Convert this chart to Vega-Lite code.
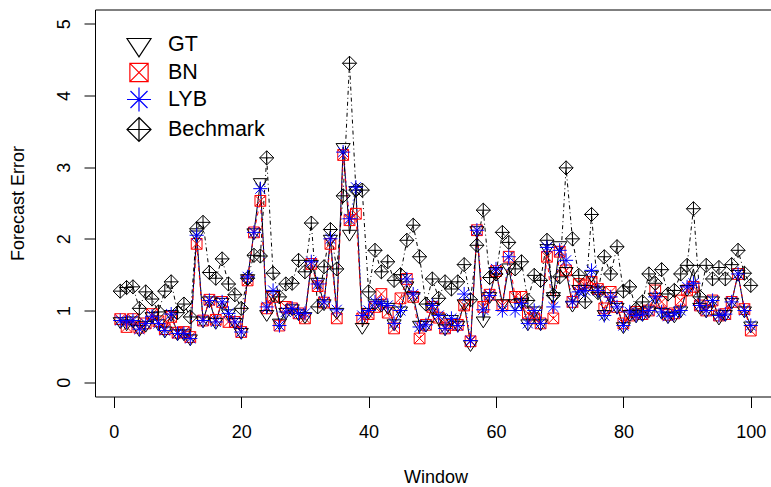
{
  "$schema": "https://vega.github.io/schema/vega-lite/v6.json",
  "width": 681,
  "height": 387,
  "autosize": {"type": "none"},
  "padding": {"left": 95, "top": 9.5, "right": 0, "bottom": 90.5},
  "background": "white",
  "config": {
    "font": "Liberation Sans",
    "view": {"stroke": "black", "strokeWidth": 1},
    "axis": {
      "grid": false, "domain": false, "tickColor": "black", "tickSize": 11, "tickWidth": 1,
      "labelColor": "black", "titleColor": "black", "labelFontSize": 18, "titleFontSize": 18,
      "titleFontWeight": "normal", "labelFont": "Liberation Sans", "titleFont": "Liberation Sans"
    }
  },
  "data": {
    "values": [
      {"w":1,"GT":0.85,"BN":0.88,"LYB":0.86,"Bechmark":1.27},
      {"w":2,"GT":0.82,"BN":0.77,"LYB":0.84,"Bechmark":1.32},
      {"w":3,"GT":0.86,"BN":0.88,"LYB":0.86,"Bechmark":1.33},
      {"w":4,"GT":0.74,"BN":0.76,"LYB":0.74,"Bechmark":1.03},
      {"w":5,"GT":0.80,"BN":0.82,"LYB":0.82,"Bechmark":1.26},
      {"w":6,"GT":0.92,"BN":0.95,"LYB":0.92,"Bechmark":1.16},
      {"w":7,"GT":0.82,"BN":0.85,"LYB":0.82,"Bechmark":0.98},
      {"w":8,"GT":0.72,"BN":0.74,"LYB":0.72,"Bechmark":1.27},
      {"w":9,"GT":0.95,"BN":0.91,"LYB":0.95,"Bechmark":1.40},
      {"w":10,"GT":0.68,"BN":0.69,"LYB":0.68,"Bechmark":0.97},
      {"w":11,"GT":0.68,"BN":0.70,"LYB":0.68,"Bechmark":1.09},
      {"w":12,"GT":0.61,"BN":0.63,"LYB":0.61,"Bechmark":0.91},
      {"w":13,"GT":2.06,"BN":1.93,"LYB":2.05,"Bechmark":2.14},
      {"w":14,"GT":0.86,"BN":0.86,"LYB":0.86,"Bechmark":2.23},
      {"w":15,"GT":1.14,"BN":1.15,"LYB":1.14,"Bechmark":1.53},
      {"w":16,"GT":0.84,"BN":0.87,"LYB":0.84,"Bechmark":1.45},
      {"w":17,"GT":1.12,"BN":1.12,"LYB":1.12,"Bechmark":1.72},
      {"w":18,"GT":0.96,"BN":0.84,"LYB":0.96,"Bechmark":1.37},
      {"w":19,"GT":0.84,"BN":0.84,"LYB":0.84,"Bechmark":1.22},
      {"w":20,"GT":0.70,"BN":0.70,"LYB":0.70,"Bechmark":1.03},
      {"w":21,"GT":1.45,"BN":1.42,"LYB":1.47,"Bechmark":1.45},
      {"w":22,"GT":2.09,"BN":2.09,"LYB":2.09,"Bechmark":1.77},
      {"w":23,"GT":2.79,"BN":2.53,"LYB":2.70,"Bechmark":1.76},
      {"w":24,"GT":0.95,"BN":1.03,"LYB":1.05,"Bechmark":3.13},
      {"w":25,"GT":1.22,"BN":1.19,"LYB":1.28,"Bechmark":1.52},
      {"w":26,"GT":0.83,"BN":0.79,"LYB":0.79,"Bechmark":1.19},
      {"w":27,"GT":0.98,"BN":1.05,"LYB":0.98,"Bechmark":1.37},
      {"w":28,"GT":1.03,"BN":1.03,"LYB":1.03,"Bechmark":1.38},
      {"w":29,"GT":0.96,"BN":0.96,"LYB":0.96,"Bechmark":1.70},
      {"w":30,"GT":0.92,"BN":0.89,"LYB":0.96,"Bechmark":1.54},
      {"w":31,"GT":1.65,"BN":1.65,"LYB":1.68,"Bechmark":2.22},
      {"w":32,"GT":1.40,"BN":1.34,"LYB":1.37,"Bechmark":1.05},
      {"w":33,"GT":1.10,"BN":1.11,"LYB":1.12,"Bechmark":1.61},
      {"w":34,"GT":2.00,"BN":1.93,"LYB":2.00,"Bechmark":2.13},
      {"w":35,"GT":0.98,"BN":0.89,"LYB":1.01,"Bechmark":1.58},
      {"w":36,"GT":3.28,"BN":3.17,"LYB":3.21,"Bechmark":2.60},
      {"w":37,"GT":2.07,"BN":2.26,"LYB":2.28,"Bechmark":4.45},
      {"w":38,"GT":2.68,"BN":2.35,"LYB":2.72,"Bechmark":2.68},
      {"w":39,"GT":0.77,"BN":0.89,"LYB":0.93,"Bechmark":2.68},
      {"w":40,"GT":0.98,"BN":0.95,"LYB":1.00,"Bechmark":1.26},
      {"w":41,"GT":1.10,"BN":1.05,"LYB":1.12,"Bechmark":1.84},
      {"w":42,"GT":1.08,"BN":1.23,"LYB":1.10,"Bechmark":1.54},
      {"w":43,"GT":1.05,"BN":0.97,"LYB":1.07,"Bechmark":1.68},
      {"w":44,"GT":0.82,"BN":0.75,"LYB":0.82,"Bechmark":1.42},
      {"w":45,"GT":1.00,"BN":1.17,"LYB":1.00,"Bechmark":1.50},
      {"w":46,"GT":1.35,"BN":1.44,"LYB":1.44,"Bechmark":1.98},
      {"w":47,"GT":1.20,"BN":1.19,"LYB":1.23,"Bechmark":2.19},
      {"w":48,"GT":0.80,"BN":0.61,"LYB":0.77,"Bechmark":1.75},
      {"w":49,"GT":0.80,"BN":0.80,"LYB":0.80,"Bechmark":1.09},
      {"w":50,"GT":1.05,"BN":1.05,"LYB":1.07,"Bechmark":1.44},
      {"w":51,"GT":0.90,"BN":0.90,"LYB":0.93,"Bechmark":1.17},
      {"w":52,"GT":0.75,"BN":0.75,"LYB":0.75,"Bechmark":1.40},
      {"w":53,"GT":0.88,"BN":0.80,"LYB":0.89,"Bechmark":1.30},
      {"w":54,"GT":0.80,"BN":0.80,"LYB":0.79,"Bechmark":1.40},
      {"w":55,"GT":1.10,"BN":1.07,"LYB":1.23,"Bechmark":1.64},
      {"w":56,"GT":0.53,"BN":0.57,"LYB":0.58,"Bechmark":1.15},
      {"w":57,"GT":2.12,"BN":2.12,"LYB":2.12,"Bechmark":1.91},
      {"w":58,"GT":0.86,"BN":1.05,"LYB":1.01,"Bechmark":2.40},
      {"w":59,"GT":1.20,"BN":1.22,"LYB":1.21,"Bechmark":1.46},
      {"w":60,"GT":1.55,"BN":1.55,"LYB":1.58,"Bechmark":1.51},
      {"w":61,"GT":1.10,"BN":1.07,"LYB":1.00,"Bechmark":2.09},
      {"w":62,"GT":1.60,"BN":1.75,"LYB":1.75,"Bechmark":1.95},
      {"w":63,"GT":1.10,"BN":1.19,"LYB":1.00,"Bechmark":1.58},
      {"w":64,"GT":1.12,"BN":1.19,"LYB":1.10,"Bechmark":1.68},
      {"w":65,"GT":0.82,"BN":0.96,"LYB":0.82,"Bechmark":1.14},
      {"w":66,"GT":1.00,"BN":0.89,"LYB":1.00,"Bechmark":1.49},
      {"w":67,"GT":0.82,"BN":0.82,"LYB":0.82,"Bechmark":1.42},
      {"w":68,"GT":1.87,"BN":1.75,"LYB":1.88,"Bechmark":1.98},
      {"w":69,"GT":1.20,"BN":0.89,"LYB":1.05,"Bechmark":1.21},
      {"w":70,"GT":1.91,"BN":1.82,"LYB":1.84,"Bechmark":1.47},
      {"w":71,"GT":1.55,"BN":1.56,"LYB":1.70,"Bechmark":2.99},
      {"w":72,"GT":1.08,"BN":1.12,"LYB":1.12,"Bechmark":2.00},
      {"w":73,"GT":1.30,"BN":1.37,"LYB":1.26,"Bechmark":1.49},
      {"w":74,"GT":1.30,"BN":1.35,"LYB":1.28,"Bechmark":1.12},
      {"w":75,"GT":1.50,"BN":1.40,"LYB":1.56,"Bechmark":2.34},
      {"w":76,"GT":1.28,"BN":1.30,"LYB":1.28,"Bechmark":1.25},
      {"w":77,"GT":0.95,"BN":1.03,"LYB":0.93,"Bechmark":1.75},
      {"w":78,"GT":1.20,"BN":1.26,"LYB":1.19,"Bechmark":1.51},
      {"w":79,"GT":1.05,"BN":1.05,"LYB":1.05,"Bechmark":1.89},
      {"w":80,"GT":0.78,"BN":0.82,"LYB":0.79,"Bechmark":1.27},
      {"w":81,"GT":0.95,"BN":0.93,"LYB":0.98,"Bechmark":1.33},
      {"w":82,"GT":0.93,"BN":0.98,"LYB":0.93,"Bechmark":1.02},
      {"w":83,"GT":0.95,"BN":0.95,"LYB":0.95,"Bechmark":1.12},
      {"w":84,"GT":1.00,"BN":1.00,"LYB":1.00,"Bechmark":1.51},
      {"w":85,"GT":1.19,"BN":1.28,"LYB":1.19,"Bechmark":1.38},
      {"w":86,"GT":0.98,"BN":1.12,"LYB":0.98,"Bechmark":1.57},
      {"w":87,"GT":0.92,"BN":0.94,"LYB":0.92,"Bechmark":1.23},
      {"w":88,"GT":0.93,"BN":0.96,"LYB":0.96,"Bechmark":1.28},
      {"w":89,"GT":1.00,"BN":1.14,"LYB":1.00,"Bechmark":1.51},
      {"w":90,"GT":1.30,"BN":1.28,"LYB":1.33,"Bechmark":1.63},
      {"w":91,"GT":1.58,"BN":1.33,"LYB":1.38,"Bechmark":2.42},
      {"w":92,"GT":1.05,"BN":1.07,"LYB":1.07,"Bechmark":1.19},
      {"w":93,"GT":1.00,"BN":1.00,"LYB":1.00,"Bechmark":1.63},
      {"w":94,"GT":1.14,"BN":1.14,"LYB":1.14,"Bechmark":1.44},
      {"w":95,"GT":0.90,"BN":0.93,"LYB":0.93,"Bechmark":1.60},
      {"w":96,"GT":0.95,"BN":0.95,"LYB":0.95,"Bechmark":1.44},
      {"w":97,"GT":1.12,"BN":1.12,"LYB":1.12,"Bechmark":1.64},
      {"w":98,"GT":1.51,"BN":1.51,"LYB":1.51,"Bechmark":1.84},
      {"w":99,"GT":1.00,"BN":1.02,"LYB":1.00,"Bechmark":1.52},
      {"w":100,"GT":0.79,"BN":0.72,"LYB":0.79,"Bechmark":1.35}
    ]
  },
  "transform": [{"fold": ["GT", "BN", "LYB", "Bechmark"], "as": ["method", "err"]}],
  "encoding": {
    "x": {
      "field": "w", "type": "quantitative",
      "scale": {"domain": [-2.96, 103.96], "nice": false, "zero": false},
      "axis": {
        "values": [0, 20, 40, 60, 80, 100], "title": "Window",
        "labelBaseline": "alphabetic", "labelPadding": 30, "labelFlush": false,
        "titleX": 340.5, "titleY": 86, "titleBaseline": "alphabetic", "titleAlign": "center"
      }
    },
    "y": {
      "field": "err", "type": "quantitative",
      "scale": {"domain": [-0.2, 5.2], "nice": false, "zero": false},
      "axis": {
        "values": [0, 1, 2, 3, 4, 5], "title": "Forecast Error",
        "labelAngle": 270, "labelAlign": "center", "labelBaseline": "alphabetic", "labelPadding": 15,
        "titleAngle": 270, "titleX": -71.5, "titleY": 193.5, "titleAlign": "center", "titleBaseline": "alphabetic"
      }
    },
    "color": {
      "field": "method", "type": "nominal",
      "scale": {"domain": ["GT", "BN", "LYB", "Bechmark"], "range": ["#000000", "#ff0000", "#0000ff", "#000000"]},
      "legend": {
        "orient": "none", "legendX": 31, "legendY": 22, "title": null, "padding": 0,
        "labelFontSize": 21.5, "labelFont": "Liberation Sans", "labelColor": "black",
        "symbolSize": 576, "symbolStrokeWidth": 1.2, "labelOffset": 16, "rowPadding": 0,
        "symbolFillColor": "transparent"
      }
    }
  },
  "layer": [
    {
      "transform": [{"filter": {"field": "method", "equal": "GT"}}],
      "mark": {"type": "line", "strokeWidth": 1}
    },
    {
      "transform": [{"filter": {"field": "method", "equal": "BN"}}],
      "mark": {"type": "line", "strokeWidth": 1, "strokeDash": [4, 4]}
    },
    {
      "transform": [{"filter": {"field": "method", "equal": "LYB"}}],
      "mark": {"type": "line", "strokeWidth": 1, "strokeDash": [1, 3]}
    },
    {
      "transform": [{"filter": {"field": "method", "equal": "Bechmark"}}],
      "mark": {"type": "line", "strokeWidth": 1, "strokeDash": [1, 3, 4, 3]}
    },
    {
      "mark": {"type": "point", "filled": false, "strokeWidth": 1, "size": 200, "opacity": 1},
      "encoding": {
        "shape": {
          "field": "method", "type": "nominal",
          "scale": {
            "domain": ["GT", "BN", "LYB", "Bechmark"],
            "range": [
              "M-1,-0.5L1,-0.5L0,1.03Z",
              "M-0.76,-0.76L0.76,-0.76L0.76,0.76L-0.76,0.76Z M-0.76,-0.76L0.76,0.76 M0.76,-0.76L-0.76,0.76",
              "M-1,0L1,0 M0,-1L0,1 M-0.71,-0.71L0.71,0.71 M-0.71,0.71L0.71,-0.71",
              "M0,-1L1,0L0,1L-1,0Z M-1,0L1,0 M0,-1L0,1"
            ]
          }
        },
        "order": {"field": "method", "sort": "ascending"}
      }
    }
  ]
}
